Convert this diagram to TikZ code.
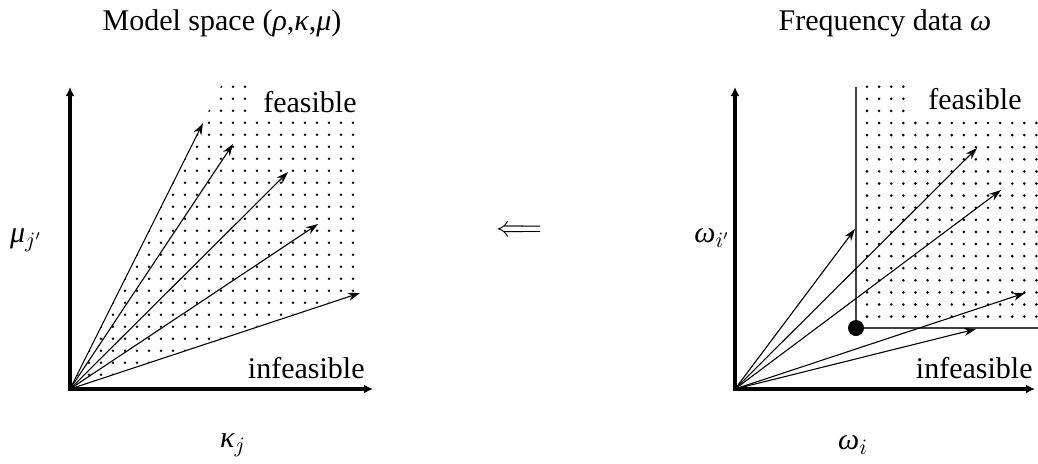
\documentclass[tikz,border=0pt]{standalone}
\usepackage{fontspec}
\setmainfont{Liberation Serif}
\usetikzlibrary{arrows.meta}

\tikzset{
  ax axis/.style={line width=2pt, <->, >={Latex[length=4.5pt,width=4.5pt]}},
  ax ray/.style={line width=0.55pt, ->, >={Stealth[length=6pt,width=4pt]}},
  ax edge/.style={line width=0.7pt, black!75},
  ax grid dot/.style={fill=black},
  ax tag/.style={fill=white, inner ysep=4pt, anchor=base east},
  ax word/.style={inner sep=0pt, anchor=base east},
}

\begin{document}
\begin{tikzpicture}[x=0.5pt, y=-0.5pt, font=\fontsize{15}{18}\selectfont]
\useasboundingbox (0,0) rectangle (1038,463);

\coordinate (lo)     at (70,389);
\coordinate (ltop)   at (70,87);
\coordinate (lright) at (373,389);
\coordinate (ro)     at (735,389);
\coordinate (rtop)   at (735,87);
\coordinate (rright) at (1035,389);
\coordinate (corner) at (856,328);
\coordinate (cup)    at (856,87);
\coordinate (cend)   at (1038,328);

\begin{scope}
  \clip (lo) -- (225,78) -- (359,78) -- (359,292) -- cycle;
  \foreach \i in {0,...,24}
    \foreach \k in {0,...,24}
      \fill[ax grid dot] ({353-12*\k},{86.7+12*\i}) circle[radius=0.72pt];
\end{scope}

\begin{scope}
  \clip (862,80) rectangle (1038,322);
  \foreach \i in {0,...,19}
    \foreach \k in {0,...,14}
      \fill[ax grid dot] ({867+12.1*\k},{86.7+12.1*\i}) circle[radius=0.72pt];
\end{scope}

\draw[ax axis] (ltop) -- (lo) -- (lright);
\draw[ax axis] (rtop) -- (ro) -- (rright);

\foreach \tx/\ty in {203/123, 233/144, 288/172, 318/224, 360/293}
  \draw[ax ray] (lo) -- (\tx,\ty);

\draw[ax edge] (cup) -- (corner) -- (cend);
\fill (corner) circle[radius=4pt];

\foreach \tx/\ty in {855/229, 977/148, 1001/190, 1025/293, 976/329}
  \draw[ax ray] (ro) -- (\tx,\ty);

\node[ax tag, inner xsep=5pt] (lfeas) at (367,112) {feasible};
\node[ax word] (linfeas) at (365,378) {infeasible};
\node[ax tag, inner xsep=9pt] (rfeas) at (1040,109) {feasible};
\node[ax word] (rinfeas) at (1033,378) {infeasible};

\node[anchor=base] (ltitle) at (222,30) {Model space (\textit{ρ},\textit{κ},\textit{μ})};
\node[anchor=base] (rtitle) at (885,30) {Frequency data \textit{ω}};

\node (lylab) at (26,240) {\textit{μ}$_{j'}$};
\node (lxlab) at (233,445) {\textit{κ}$_{j}$};
\node (rylab) at (712,238) {\textit{ω}$_{i'}$};
\node (rxlab) at (853,445) {\textit{ω}$_{i}$};

\node (impl) at (519,231) {$\Longleftarrow$};
\end{tikzpicture}
\end{document}
